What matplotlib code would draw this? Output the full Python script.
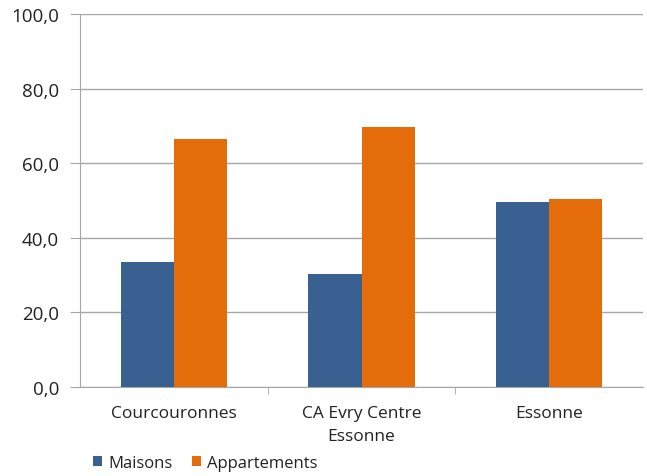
import numpy as np
import matplotlib.pyplot as plt
from matplotlib.ticker import FuncFormatter, FixedLocator

categories = ["Courcouronnes", "CA Evry Centre\nEssonne", "Essonne"]
maisons = [33.5, 30.3, 49.6]
appartements = [66.5, 69.7, 50.4]
yticks = [0, 20, 40, 60, 80, 100]

plt.rcParams['font.family'] = ['Open Sans', 'DejaVu Sans']

fig = plt.figure(figsize=(6.47, 4.77), dpi=100)
ax = fig.add_axes([80 / 647, 1 - 388 / 477, 563 / 647, 373 / 477])

x = np.arange(len(categories))
w = 0.283
ax.bar(x - w / 2, maisons, w, color="#386192", label="Maisons", zorder=3)
ax.bar(x + w / 2, appartements, w, color="#E46C0A", label="Appartements", zorder=3)

ax.set_xlim(-0.5, len(categories) - 0.5)
ax.set_ylim(0, 100)
ax.set_yticks(yticks)
ax.yaxis.set_major_formatter(FuncFormatter(lambda v, p: f"{v:.1f}".replace(".", ",")))
ax.grid(axis="y", color="#a6a6a6", linewidth=1, zorder=0)

ax.set_xticks(x)
ax.set_xticklabels(categories, fontsize=12.5, color="#222222", linespacing=1.55)
ax.tick_params(axis="x", which="major", length=0, pad=13)
ax.xaxis.set_minor_locator(FixedLocator([0.5, 1.5]))
ax.tick_params(axis="x", which="minor", length=5, color="#a6a6a6")
ax.tick_params(axis="y", length=7, color="#a6a6a6", labelsize=13.5, labelcolor="#222222", pad=8)

for s in ["top", "right"]:
    ax.spines[s].set_visible(False)
for s in ["left", "bottom"]:
    ax.spines[s].set_color("#a6a6a6")

fig.legend(loc="lower left", bbox_to_anchor=(78 / 647, -10 / 477), ncol=2, frameon=False,
           fontsize=12, handlelength=0.55, handleheight=0.55, handletextpad=0.35,
           columnspacing=1.2, labelcolor="#222222")

plt.savefig("out.png", dpi=100)
